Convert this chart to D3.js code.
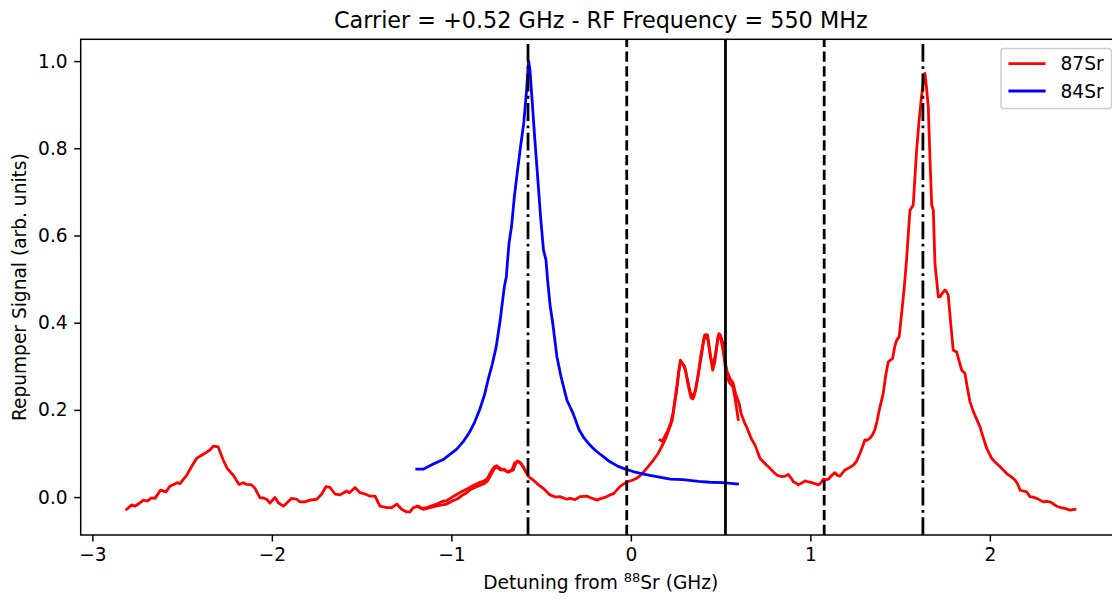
<!DOCTYPE html>
<html>
<head>
<meta charset="utf-8">
<script src="https://cdn.jsdelivr.net/npm/d3@7"></script>
<style>
  html, body { margin: 0; padding: 0; background: #fff; }
  svg { display: block; font-family: "DejaVu Sans", sans-serif; }
</style>
</head>
<body>
<div id="container"></div>
<script>
// detuning (GHz) and signal
const xTicks = [-3, -2, -1, 0, 1, 2];
const yTicks = [0.0, 0.2, 0.4, 0.6, 0.8, 1.0];

const carrierGHz = 0.527;
const rfGHz = 0.55;
const sidebandOrders = [-2, -1, 0, 1, 2];

const sr84 = [
  [-1.193, 0.064], [-1.157, 0.064], [-1.101, 0.076], [-1.045, 0.086], [-1.008, 0.098],
  [-0.97, 0.110], [-0.934, 0.127], [-0.9, 0.148], [-0.87, 0.172], [-0.841, 0.202],
  [-0.815, 0.235], [-0.796, 0.268], [-0.772, 0.305], [-0.75, 0.345], [-0.728, 0.406],
  [-0.705, 0.482], [-0.694, 0.505], [-0.679, 0.582], [-0.665, 0.62], [-0.649, 0.689],
  [-0.638, 0.727], [-0.615, 0.803], [-0.597, 0.857], [-0.581, 0.933], [-0.57, 1.0],
  [-0.562, 0.98], [-0.554, 0.933], [-0.536, 0.826], [-0.518, 0.727], [-0.503, 0.643],
  [-0.487, 0.567], [-0.473, 0.544], [-0.464, 0.498], [-0.45, 0.44], [-0.435, 0.398],
  [-0.412, 0.322], [-0.389, 0.276], [-0.356, 0.222], [-0.322, 0.192], [-0.288, 0.154],
  [-0.26, 0.135], [-0.232, 0.121], [-0.2, 0.108], [-0.164, 0.096], [-0.12, 0.082],
  [-0.074, 0.071], [-0.03, 0.064], [0.017, 0.058], [0.06, 0.054], [0.106, 0.05],
  [0.16, 0.046], [0.22, 0.041], [0.29, 0.04], [0.377, 0.036], [0.44, 0.034],
  [0.513, 0.033], [0.594, 0.03]
];

const sr87ScanA = [
  [-2.809, -0.028], [-2.781, -0.018], [-2.762, -0.021], [-2.734, -0.013], [-2.716, -0.007],
  [-2.694, -0.009], [-2.67, -0.002], [-2.651, -0.003], [-2.62, 0.016], [-2.59, 0.012],
  [-2.568, 0.025], [-2.527, 0.033], [-2.512, 0.031], [-2.475, 0.05], [-2.447, 0.07],
  [-2.419, 0.089], [-2.391, 0.096], [-2.363, 0.103], [-2.345, 0.108], [-2.326, 0.117],
  [-2.299, 0.115], [-2.271, 0.085], [-2.249, 0.066], [-2.215, 0.05], [-2.183, 0.029],
  [-2.159, 0.033], [-2.14, 0.029], [-2.113, 0.028], [-2.094, 0.02], [-2.066, -0.002],
  [-2.048, -0.002], [-2.029, -0.005], [-2.011, -0.014], [-1.983, -0.001], [-1.964, -0.013],
  [-1.936, -0.021], [-1.918, -0.014], [-1.89, -0.003], [-1.862, -0.005], [-1.843, -0.011],
  [-1.815, -0.011], [-1.788, -0.007], [-1.75, -0.005], [-1.722, 0.007], [-1.699, 0.024],
  [-1.676, 0.022], [-1.648, 0.007], [-1.62, 0.005], [-1.583, 0.014], [-1.568, 0.01],
  [-1.537, 0.022], [-1.509, 0.01], [-1.481, 0.007], [-1.453, 0.002], [-1.425, 0.002],
  [-1.398, -0.021], [-1.36, -0.024], [-1.332, -0.024], [-1.304, -0.016], [-1.277, -0.028],
  [-1.249, -0.034], [-1.231, -0.034], [-1.212, -0.024], [-1.184, -0.021], [-1.157, -0.028],
  [-1.119, -0.024], [-1.082, -0.02], [-1.05, -0.018], [-1.026, -0.016], [-0.99, -0.008],
  [-0.97, -0.005], [-0.94, 0.004], [-0.915, 0.01], [-0.89, 0.018], [-0.869, 0.022],
  [-0.845, 0.026], [-0.822, 0.03], [-0.8, 0.036], [-0.785, 0.047], [-0.765, 0.062],
  [-0.748, 0.072], [-0.73, 0.066], [-0.711, 0.062], [-0.695, 0.06], [-0.683, 0.057],
  [-0.668, 0.06], [-0.655, 0.062], [-0.643, 0.075], [-0.633, 0.083], [-0.62, 0.08],
  [-0.608, 0.074], [-0.59, 0.062], [-0.575, 0.052]
];

const sr87ScanB = [
  [-1.193, -0.021], [-1.165, -0.026], [-1.138, -0.024], [-1.11, -0.02], [-1.082, -0.016],
  [-1.05, -0.01], [-1.026, -0.008], [-0.995, 0.0], [-0.97, 0.006], [-0.945, 0.012],
  [-0.915, 0.018], [-0.89, 0.024], [-0.869, 0.028], [-0.845, 0.033], [-0.822, 0.036],
  [-0.8, 0.042], [-0.78, 0.058], [-0.76, 0.07], [-0.745, 0.068], [-0.725, 0.062],
  [-0.705, 0.064], [-0.69, 0.058], [-0.673, 0.06], [-0.66, 0.065], [-0.648, 0.078],
  [-0.638, 0.08], [-0.626, 0.081], [-0.612, 0.077], [-0.6, 0.07], [-0.585, 0.058],
  [-0.57, 0.047], [-0.544, 0.039], [-0.514, 0.028], [-0.488, 0.02], [-0.451, 0.005],
  [-0.42, 0.0], [-0.395, 0.001], [-0.356, -0.005], [-0.339, -0.003], [-0.31, -0.006],
  [-0.284, 0.001], [-0.243, 0.002], [-0.228, -0.001], [-0.187, -0.007], [-0.172, -0.004],
  [-0.14, 0.0], [-0.116, 0.005], [-0.096, 0.008], [-0.061, 0.024], [-0.023, 0.035],
  [0.005, 0.038], [0.032, 0.043], [0.06, 0.052], [0.088, 0.066], [0.12, 0.082],
  [0.152, 0.1], [0.181, 0.123], [0.197, 0.138], [0.218, 0.161], [0.231, 0.177],
  [0.246, 0.222], [0.253, 0.238], [0.264, 0.275], [0.276, 0.314], [0.288, 0.305],
  [0.299, 0.3], [0.315, 0.27], [0.332, 0.238], [0.35, 0.23], [0.362, 0.25],
  [0.377, 0.284], [0.395, 0.33], [0.411, 0.372], [0.427, 0.372], [0.441, 0.33],
  [0.456, 0.291], [0.468, 0.31], [0.48, 0.35], [0.49, 0.375], [0.5, 0.37],
  [0.513, 0.353], [0.525, 0.3], [0.535, 0.276], [0.55, 0.262], [0.569, 0.253],
  [0.583, 0.22], [0.598, 0.178]
];

const sr87ScanC = [
  [0.163, 0.131], [0.175, 0.128], [0.19, 0.14], [0.205, 0.152], [0.222, 0.17],
  [0.236, 0.195], [0.248, 0.23], [0.258, 0.26], [0.27, 0.3], [0.28, 0.31],
  [0.293, 0.303], [0.305, 0.29], [0.32, 0.255], [0.335, 0.228], [0.345, 0.225],
  [0.36, 0.245], [0.374, 0.278], [0.39, 0.325], [0.405, 0.36], [0.418, 0.372],
  [0.43, 0.36], [0.445, 0.318], [0.458, 0.3], [0.472, 0.33], [0.486, 0.368],
  [0.497, 0.372], [0.51, 0.345], [0.52, 0.32], [0.535, 0.29], [0.552, 0.272],
  [0.569, 0.262], [0.585, 0.235], [0.603, 0.215], [0.614, 0.192], [0.632, 0.172],
  [0.648, 0.158], [0.67, 0.135], [0.693, 0.118], [0.719, 0.089], [0.74, 0.08],
  [0.757, 0.073], [0.775, 0.066], [0.793, 0.058], [0.815, 0.05], [0.84, 0.047],
  [0.86, 0.048], [0.877, 0.052], [0.895, 0.042], [0.905, 0.035], [0.92, 0.032],
  [0.933, 0.028], [0.95, 0.032], [0.97, 0.037], [0.99, 0.035], [1.007, 0.033],
  [1.025, 0.031], [1.044, 0.028], [1.058, 0.032], [1.072, 0.041], [1.088, 0.04],
  [1.1, 0.041], [1.12, 0.05], [1.137, 0.056], [1.15, 0.05], [1.165, 0.048],
  [1.18, 0.056], [1.193, 0.062], [1.215, 0.067], [1.239, 0.073], [1.257, 0.082],
  [1.276, 0.1], [1.29, 0.115], [1.304, 0.131], [1.315, 0.13], [1.332, 0.135],
  [1.345, 0.142], [1.359, 0.154], [1.372, 0.175], [1.384, 0.2], [1.406, 0.238],
  [1.42, 0.28], [1.434, 0.31], [1.446, 0.314], [1.458, 0.318], [1.47, 0.345],
  [1.481, 0.36], [1.495, 0.368], [1.508, 0.42], [1.518, 0.459], [1.527, 0.5],
  [1.536, 0.544], [1.545, 0.6], [1.555, 0.658], [1.573, 0.67], [1.582, 0.73],
  [1.592, 0.796], [1.605, 0.86], [1.62, 0.922], [1.63, 0.955], [1.638, 0.972],
  [1.647, 0.94], [1.657, 0.895], [1.666, 0.78], [1.676, 0.67], [1.685, 0.658],
  [1.694, 0.536], [1.713, 0.459], [1.722, 0.459], [1.736, 0.468], [1.75, 0.475],
  [1.76, 0.47], [1.768, 0.463], [1.782, 0.398], [1.796, 0.337], [1.815, 0.333],
  [1.83, 0.31], [1.843, 0.291], [1.861, 0.284], [1.875, 0.25], [1.889, 0.219],
  [1.908, 0.196], [1.925, 0.18], [1.945, 0.161], [1.962, 0.138], [1.982, 0.112],
  [2.01, 0.089], [2.03, 0.08], [2.056, 0.07], [2.075, 0.062], [2.094, 0.054],
  [2.118, 0.047], [2.14, 0.039], [2.155, 0.03], [2.168, 0.016], [2.185, 0.014],
  [2.205, 0.012], [2.223, 0.001], [2.24, 0.0], [2.261, -0.003], [2.28, -0.007],
  [2.298, -0.011], [2.315, -0.01], [2.335, -0.011], [2.355, -0.016], [2.372, -0.021],
  [2.395, -0.024], [2.418, -0.026], [2.446, -0.03], [2.474, -0.028]
];

const legendLabels = ["87Sr", "84Sr"];

document.addEventListener("DOMContentLoaded", function () {
  const w = 1112;
  const h = 600;
  const plot = { left: 80.7, right: 1120.9, top: 39.3, bottom: 535 };
  const pt = 1.86; // px per point in the original figure
  const lw = 1.5 * pt;
  const fs = 10 * pt;

  const x = d3.scaleLinear().domain([-3.065, 2.73]).range([plot.left, plot.right]);
  const y = d3.scaleLinear().domain([-0.087, 1.05]).range([plot.bottom, plot.top]);

  const svg = d3
    .select("#container")
    .append("svg")
    .attr("width", w)
    .attr("height", h);

  svg.append("rect").attr("width", w).attr("height", h).attr("fill", "#fff");

  svg
    .append("clipPath")
    .attr("id", "clip")
    .append("rect")
    .attr("x", plot.left)
    .attr("y", plot.top)
    .attr("width", plot.right - plot.left)
    .attr("height", plot.bottom - plot.top);

  const line = d3
    .line()
    .x((d) => x(d[0]))
    .y((d) => y(d[1]));

  const curves = svg.append("g").attr("clip-path", "url(#clip)");

  const series = [
    { data: sr87ScanA, color: "#ff0000" },
    { data: sr87ScanB, color: "#ff0000" },
    { data: sr87ScanC, color: "#ff0000" },
    { data: sr84, color: "#0000ff" }
  ];

  curves
    .selectAll("path.trace")
    .data(series)
    .enter()
    .append("path")
    .attr("class", "trace")
    .attr("d", (d) => line(d.data))
    .attr("fill", "none")
    .attr("stroke", (d) => d.color)
    .attr("stroke-width", lw)
    .attr("stroke-linejoin", "round")
    .attr("stroke-linecap", "square");

  // carrier and RF sidebands
  const dashFor = (k) => {
    if (Math.abs(k) === 2) return [6.4, 1.6, 1, 1.6].map((v) => v * lw).join(",");
    if (Math.abs(k) === 1) return [3.7, 1.6].map((v) => v * lw).join(",");
    return null;
  };

  curves
    .selectAll("line.band")
    .data(sidebandOrders)
    .enter()
    .append("line")
    .attr("class", "band")
    .attr("x1", (k) => x(carrierGHz + k * rfGHz))
    .attr("x2", (k) => x(carrierGHz + k * rfGHz))
    .attr("y1", plot.bottom)
    .attr("y2", plot.top)
    .attr("stroke", "#000")
    .attr("stroke-width", lw)
    .attr("stroke-dasharray", (k) => dashFor(k));

  // axes
  const xAxis = d3
    .axisBottom(x)
    .tickValues(xTicks)
    .tickSize(3.5 * pt)
    .tickPadding(3.5 * pt)
    .tickFormat((d) => (d < 0 ? "\u2212" + Math.abs(d) : d));

  const yAxis = d3
    .axisLeft(y)
    .tickValues(yTicks)
    .tickSize(3.5 * pt)
    .tickPadding(3.5 * pt)
    .tickFormat(d3.format(".1f"));

  const gx = svg
    .append("g")
    .attr("transform", `translate(0,${plot.bottom})`)
    .call(xAxis);

  const gy = svg
    .append("g")
    .attr("transform", `translate(${plot.left},0)`)
    .call(yAxis);

  [gx, gy].forEach((g) => {
    g.select(".domain").remove();
    g.selectAll(".tick line").attr("stroke", "#000").attr("stroke-width", 0.8 * pt);
    g.selectAll(".tick text")
      .attr("fill", "#000")
      .style("font-size", fs + "px")
      .style("font-family", "DejaVu Sans");
  });

  svg
    .append("rect")
    .attr("x", plot.left)
    .attr("y", plot.top)
    .attr("width", plot.right - plot.left)
    .attr("height", plot.bottom - plot.top)
    .attr("fill", "none")
    .attr("stroke", "#000")
    .attr("stroke-width", 0.8 * pt);

  // titles
  svg
    .append("text")
    .attr("x", (plot.left + plot.right) / 2)
    .attr("y", plot.top - 6 * pt)
    .attr("text-anchor", "middle")
    .style("font-size", 12 * pt + "px")
    .text("Carrier = +0.52 GHz - RF Frequency = 550 MHz");

  const xl = svg
    .append("text")
    .attr("x", (plot.left + plot.right) / 2)
    .attr("y", 589)
    .attr("text-anchor", "middle")
    .style("font-size", fs + "px");
  xl.append("tspan").text("Detuning from ");
  xl.append("tspan").attr("dy", -7).style("font-size", 0.7 * fs + "px").text("88");
  xl.append("tspan").attr("dy", 7).text("Sr (GHz)");

  svg
    .append("text")
    .attr("transform", `translate(26,${(plot.top + plot.bottom) / 2}) rotate(-90)`)
    .attr("text-anchor", "middle")
    .style("font-size", fs + "px")
    .text("Repumper Signal (arb. units)");

  // legend
  const legend = svg.append("g").attr("transform", "translate(1001,48.6)");
  legend
    .append("rect")
    .attr("width", 110.6)
    .attr("height", 60)
    .attr("rx", 3)
    .attr("fill", "#fff")
    .attr("fill-opacity", 0.8)
    .attr("stroke", "#cccccc")
    .attr("stroke-width", 0.8 * pt);

  const legendColors = ["#ff0000", "#0000ff"];
  const items = legend
    .selectAll("g.item")
    .data(legendLabels)
    .enter()
    .append("g")
    .attr("class", "item")
    .attr("transform", (d, i) => `translate(0,${15 + i * 27.4})`);

  items
    .append("line")
    .attr("x1", 7.4)
    .attr("x2", 7.4 + 2 * fs)
    .attr("stroke", (d, i) => legendColors[i])
    .attr("stroke-width", lw);

  items
    .append("text")
    .attr("x", 7.4 + 2.8 * fs)
    .attr("dy", "0.36em")
    .style("font-size", fs + "px")
    .text((d) => d);
});
</script>
</body>
</html>
